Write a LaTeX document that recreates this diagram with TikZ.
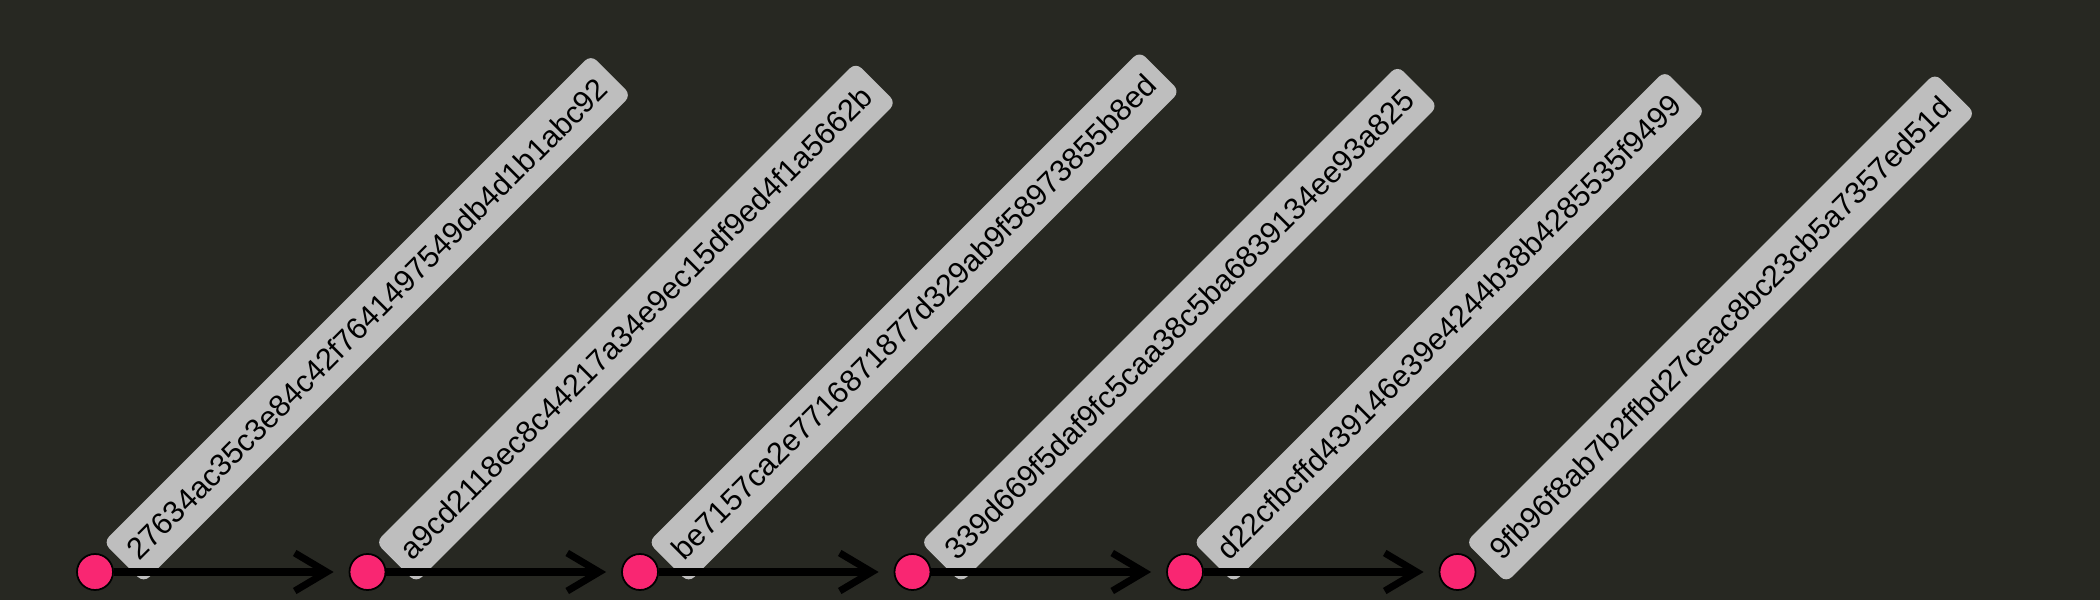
\documentclass[tikz,border=0pt]{standalone}
\usepackage{fontspec}
\setmainfont{Liberation Sans}
\usetikzlibrary{arrows.meta}
\definecolor{bgdark}{HTML}{272822}
\definecolor{commitpink}{HTML}{F92672}
\definecolor{hashgrey}{HTML}{BEBEBE}

\begin{document}
\begin{tikzpicture}[
  commit/.style={circle, draw=black, line width=0.5pt, fill=commitpink, minimum size=0.36cm, inner sep=0pt},
  hashbox/.style={fill=hashgrey, rounded corners=0.08cm, rotate=45, anchor=west, inner xsep=3.5pt, minimum height=0.57cm, font=\fontsize{8.7}{10}\selectfont},
  link/.style={-{Straight Barb[length=3.2mm,width=3.8mm]}, line width=2pt, shorten >=0.15cm}
]
  \fill[bgdark] (0,0) rectangle (21,6);
  % commits, left to right
  \foreach \h [count=\i] in {27634ac35c3e84c42f7641497549db4d1b1abc92,
      a9cd2118ec8c44217a34e9ec15df9ed4f1a5662b,
      be7157ca2e7716871877d329ab9f58973855b8ed,
      339d669f5daf9fc5caa38c5ba6839134ee93a825,
      d22cfbcffd439146e39e4244b38b4285535f9499,
      9fb96f8ab7b2ffbd27ceac8bc23cb5a7357ed51d} {
    \node[hashbox] (h\i) at ({0.95+2.725*(\i-1)+0.28},0.37) {\h};
    \node[commit] (c\i) at ({0.95+2.725*(\i-1)},0.28) {};
  }
  \foreach \i [evaluate=\i as \j using int(\i+1)] in {1,...,5}
    \draw[link] (c\i) -- (c\j);
\end{tikzpicture}
\end{document}
